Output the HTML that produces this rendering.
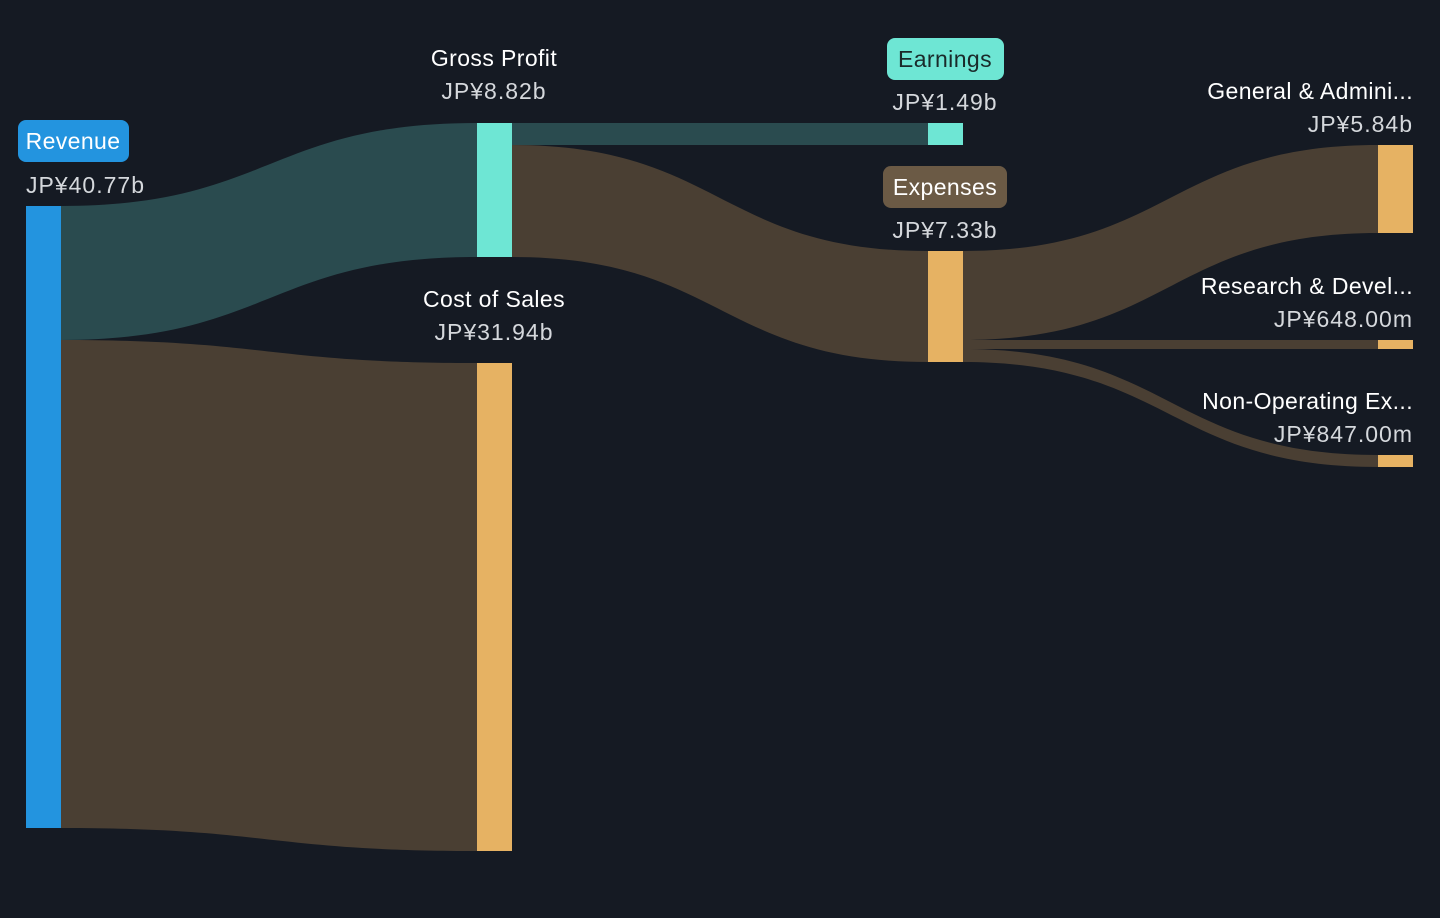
<!DOCTYPE html>
<html><head><meta charset="utf-8"><style>
html,body{margin:0;padding:0;background:#151a23;}
svg{display:block;}
text{font-family:"Liberation Sans",sans-serif;font-size:23px;letter-spacing:0.4px;}
text.v{letter-spacing:1px;}
</style></head><body>
<svg width="1440" height="918" viewBox="0 0 1440 918" xmlns="http://www.w3.org/2000/svg">
<rect width="1440" height="918" fill="#151a23"/>
<path d="M61,206 C269,206 269,123 477,123 L477,257 C269,257 269,340 61,340 Z" fill="#2a4b4f"/>
<path d="M61,340 C269,340 269,363 477,363 L477,851 C269,851 269,828 61,828 Z" fill="#4a3f33"/>
<path d="M512,123 L928,123 L928,145 L512,145 Z" fill="#2a4b4f"/>
<path d="M512,145 C720,145 720,251 928,251 L928,362 C720,362 720,257 512,257 Z" fill="#4a3f33"/>
<path d="M963,251 C1170,251 1170,145 1378,145 L1378,233 C1170,233 1170,340 963,340 Z" fill="#4a3f33"/>
<path d="M963,340 L1378,340 L1378,349 L963,349 Z" fill="#4a3f33"/>
<path d="M963,349 C1170,349 1170,455 1378,455 L1378,467 C1170,467 1170,362 963,362 Z" fill="#4a3f33"/>
<rect x="26" y="206" width="35" height="622" fill="#2394df"/>
<rect x="477" y="123" width="35" height="134" fill="#6ee6d4"/>
<rect x="477" y="363" width="35" height="488" fill="#e6b263"/>
<rect x="928" y="123" width="35" height="22" fill="#6ee6d4"/>
<rect x="928" y="251" width="35" height="111" fill="#e6b263"/>
<rect x="1378" y="145" width="35" height="88" fill="#e6b263"/>
<rect x="1378" y="340" width="35" height="9" fill="#e6b263"/>
<rect x="1378" y="455" width="35" height="12" fill="#e6b263"/>
<rect x="18" y="120" width="111" height="42" rx="8" fill="#2394df"/>
<text x="73" y="149" fill="#fff" text-anchor="middle">Revenue</text>
<text class="v" x="26" y="193" fill="#d5d8dc">JP¥40.77b</text>
<text x="494" y="66" fill="#fff" text-anchor="middle">Gross Profit</text>
<text class="v" x="494" y="99" fill="#d5d8dc" text-anchor="middle">JP¥8.82b</text>
<text x="494" y="307" fill="#fff" text-anchor="middle">Cost of Sales</text>
<text class="v" x="494" y="340" fill="#d5d8dc" text-anchor="middle">JP¥31.94b</text>
<rect x="887" y="38" width="117" height="42" rx="8" fill="#6ee6d4"/>
<text x="945" y="67" fill="#1a2a2a" text-anchor="middle">Earnings</text>
<text class="v" x="945" y="110" fill="#d5d8dc" text-anchor="middle">JP¥1.49b</text>
<rect x="883" y="166" width="124" height="42" rx="8" fill="#6b5a45"/>
<text x="945" y="195" fill="#fff" text-anchor="middle">Expenses</text>
<text class="v" x="945" y="238" fill="#d5d8dc" text-anchor="middle">JP¥7.33b</text>
<text x="1413" y="99" fill="#fff" text-anchor="end">General &amp; Admini...</text>
<text class="v" x="1413" y="132" fill="#d5d8dc" text-anchor="end">JP¥5.84b</text>
<text x="1413" y="294" fill="#fff" text-anchor="end">Research &amp; Devel...</text>
<text class="v" x="1413" y="327" fill="#d5d8dc" text-anchor="end">JP¥648.00m</text>
<text x="1413" y="409" fill="#fff" text-anchor="end">Non-Operating Ex...</text>
<text class="v" x="1413" y="442" fill="#d5d8dc" text-anchor="end">JP¥847.00m</text>
</svg>
</body></html>
